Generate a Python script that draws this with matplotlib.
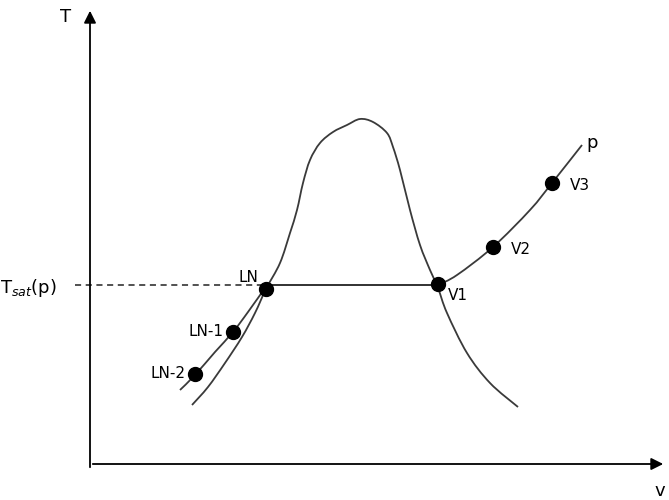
import numpy as np
import matplotlib.pyplot as plt
from matplotlib.path import Path
from matplotlib.patches import PathPatch

# Sketch of a T-v diagram, coordinates (pixel-like units, y down)

dome_v = [192, 208, 225, 242, 255, 266, 280, 290, 297, 303, 310, 320, 333, 347, 360, 373, 387, 393,
          400, 410, 420, 430, 438, 447, 467, 490, 518]
dome_T = [405, 387, 363, 337, 313, 289, 263, 233, 210, 183, 160, 143, 132, 125, 119, 122, 133, 147,
          170, 210, 245, 270, 288, 313, 353, 383, 407]

liq_v = [180, 195, 215, 233, 248, 265]
liq_T = [390, 375, 352, 332, 312, 288]

vap_v = [438, 457, 493, 530, 552, 582]
vap_T = [285, 275, 247, 210, 183, 145]

tsat_T = 285
ln_v, v1_v = 265, 437

pt_names = ["LN-2", "LN-1", "LN", "V1", "V2", "V3"]
pt_v = [195, 233, 266, 438, 493, 552]
pt_T = [374, 332, 289, 284, 247, 183]


def smooth(xs, ys, ax, **kw):
    # catmull-rom through the points, drawn as bezier path
    p = np.column_stack([xs, ys]).astype(float)
    p = np.vstack([p[0], p, p[-1]])
    verts = [p[1]]
    codes = [Path.MOVETO]
    for i in range(1, len(p) - 2):
        c1 = p[i] + (p[i + 1] - p[i - 1]) / 6
        c2 = p[i + 1] - (p[i + 2] - p[i]) / 6
        verts += [c1, c2, p[i + 1]]
        codes += [Path.CURVE4] * 3
    ax.add_patch(PathPatch(Path(verts, codes), fill=False, **kw))


fig = plt.figure(figsize=(6.69, 5.0), dpi=100)
ax = fig.add_axes([0, 0, 1, 1])
ax.set_xlim(0, 669)
ax.set_ylim(500, 0)
ax.set_axis_off()

lc = dict(edgecolor="#3a3a3a", lw=1.3)
smooth(dome_v, dome_T, ax, **lc)
smooth(liq_v, liq_T, ax, **lc)
smooth(vap_v, vap_T, ax, **lc)
ax.plot([ln_v, v1_v], [tsat_T, tsat_T], color="#222222", lw=1.3)
ax.plot([75, ln_v], [tsat_T, tsat_T], color="#222222", lw=1.1, ls=(0, (4, 3)))

# axes arrows
ax.annotate("", xy=(90, 8), xytext=(90, 470),
            arrowprops=dict(arrowstyle="-|>", color="black", lw=1.3, mutation_scale=18))
ax.annotate("", xy=(666, 464), xytext=(90, 464),
            arrowprops=dict(arrowstyle="-|>", color="black", lw=1.3, mutation_scale=18))

ax.plot(pt_v, pt_T, "o", color="black", markersize=10)

fs = 11
offs = {"LN-2": (-10, 0, "right"), "LN-1": (-10, 0, "right"), "LN": (-8, -11, "right"),
        "V1": (10, 12, "left"), "V2": (18, 2, "left"), "V3": (18, 2, "left")}
for n, x, y in zip(pt_names, pt_v, pt_T):
    dx, dy, ha = offs[n]
    ax.text(x + dx, y + dy, n, fontsize=fs, ha=ha, va="center")

ax.text(592, 143, "p", fontsize=13, ha="center", va="center")
ax.text(66, 17, "T", fontsize=13, ha="center", va="center")
ax.text(660, 491, "v", fontsize=13, ha="center", va="center")
ax.text(0, 288, r"T$_{sat}$(p)", fontsize=13, ha="left", va="center")

fig.savefig("out.png", dpi=100)
